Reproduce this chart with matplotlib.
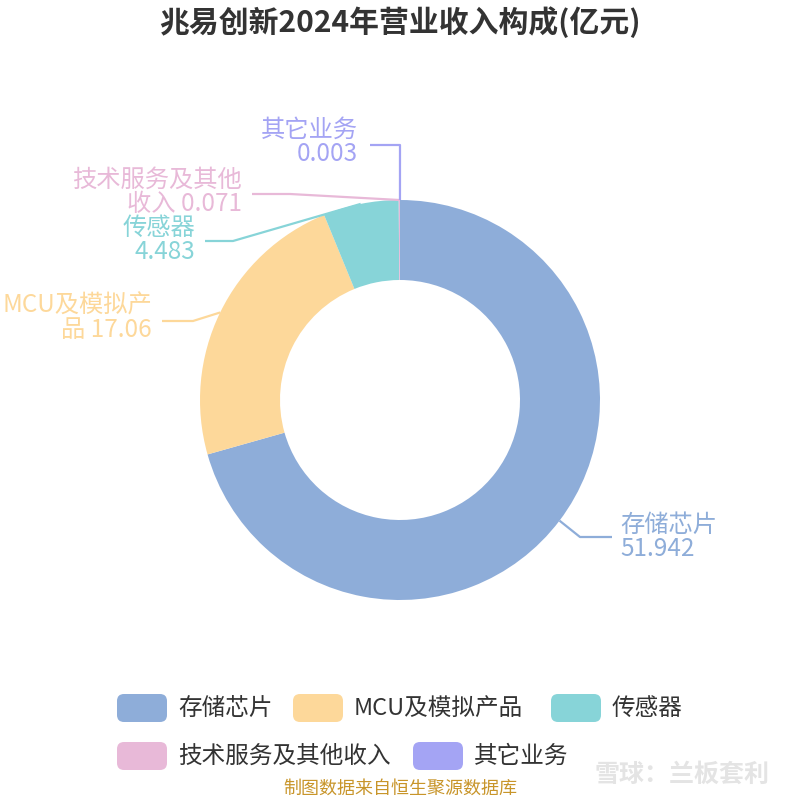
import numpy as np
from matplotlib import pyplot as plt
from matplotlib.patches import FancyBboxPatch

plt.rcParams['font.family'] = ['Noto Sans CJK SC', 'DejaVu Sans']

# data
categories = ['存储芯片', 'MCU及模拟产品', '传感器', '技术服务及其他收入', '其它业务']
values = [51.942, 17.06, 4.483, 0.071, 0.003]
value_labels = ['51.942', '17.06', '4.483', '0.071', '0.003']
colors = ['#8eadd9', '#fdd89a', '#87d4d8', '#e8b9d8', '#a4a4f4']

title = '兆易创新2024年营业收入构成(亿元)'
source = '制图数据来自恒生聚源数据库'

# label layout in pixel coords (y from top): elbow, line end, text anchor x, text y, alignment, text
label_layout = [
    ((580, 537), 612, 620, 537, 'left', '存储芯片\n51.942'),
    ((193, 321), 162, 152, 318, 'right', 'MCU及模拟产\n品 17.06'),
    ((233, 241), 205, 195, 240, 'right', '传感器\n4.483'),
    ((290, 194), 252, 242, 192, 'right', '技术服务及其他\n收入 0.071'),
    ((400, 145), 370, 358, 142, 'right', '其它业务\n0.003'),
]

W = H = 800
cx, cy, r_out, r_in = 400, 400, 200, 120

fig = plt.figure(figsize=(8, 8), dpi=100)
ax = fig.add_axes([0, 0, 1, 1])


def py(y):
    # pixel y (from top) to axes y
    return H - y


wedges, _ = ax.pie(values, colors=colors, startangle=90, counterclock=False,
                   center=(cx, py(cy)), radius=r_out,
                   wedgeprops=dict(width=r_out - r_in, linewidth=0), frame=True)
ax.set_xlim(0, W)
ax.set_ylim(0, H)
ax.set_aspect('equal')
ax.axis('off')

# leader lines and labels
for w, col, (elbow, x_end, tx, ty, ha, txt) in zip(wedges, colors, label_layout):
    ang = np.deg2rad((w.theta1 + w.theta2) / 2)
    x0 = cx + r_out * np.cos(ang)
    y0 = py(cy) + r_out * np.sin(ang)
    ax.plot([x0, elbow[0], x_end], [y0, py(elbow[1]), py(elbow[1])],
            color=col, lw=1.6, solid_capstyle='butt')
    ax.text(tx, py(ty), txt, color=col, fontsize=17.5, ha=ha, va='center',
            multialignment=ha, linespacing=0.9)

# title
ax.text(400, py(22), title, fontsize=21.5, fontweight='bold', color='#333333',
        ha='center', va='center')

# legend drawn by hand
legend_pos = [(117, 708), (293, 708), (551, 708), (117, 756), (413, 756)]
for (lx, ly), name, col in zip(legend_pos, categories, colors):
    box = FancyBboxPatch((lx, py(ly) - 14), 50, 28,
                         boxstyle='round,pad=0,rounding_size=7',
                         facecolor=col, edgecolor='none')
    ax.add_patch(box)
    ax.text(lx + 61, py(ly), name, fontsize=17, color='#333333',
            ha='left', va='center')

# source and watermark
ax.text(400, py(789), source, fontsize=13, color='#c8952a', ha='center', va='center')
ax.text(682, py(775), '雪球：兰板套利', fontsize=18, color='#e4e4e4',
        ha='center', va='center', fontweight='bold')

fig.savefig('out.png', dpi=100)
